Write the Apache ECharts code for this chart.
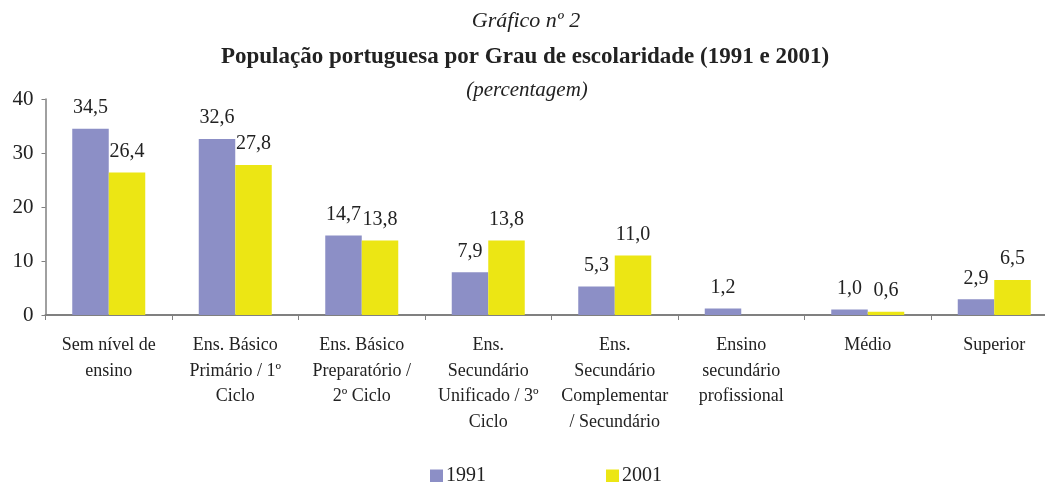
<!DOCTYPE html>
<html>
<head>
<meta charset="utf-8">
<script src="https://cdn.jsdelivr.net/npm/echarts@6/dist/echarts.min.js"></script>
<style>
  html, body { margin: 0; padding: 0; background: #fff; }
  #chart { width: 1045px; height: 482px; }
</style>
</head>
<body>
<div id="chart"></div>
<script>
const categories = [
  'Sem nível de\nensino',
  'Ens. Básico\nPrimário / 1º\nCiclo',
  'Ens. Básico\nPreparatório /\n2º Ciclo',
  'Ens.\nSecundário\nUnificado / 3º\nCiclo',
  'Ens.\nSecundário\nComplementar\n/ Secundário',
  'Ensino\nsecundário\nprofissional',
  'Médio',
  'Superior'
];
const values1991 = [34.5, 32.6, 14.7, 7.9, 5.3, 1.2, 1.0, 2.9];
const values2001 = [26.4, 27.8, 13.8, 13.8, 11.0, null, 0.6, 6.5];
const yTicks = [0, 10, 20, 30, 40];

const font = '"Liberation Serif", "DejaVu Serif", serif';
const textColor = '#222';
const axisColor = '#808080';

const chart = echarts.init(document.getElementById('chart'));

const fmt = p => (p.value == null ? '' : p.value.toFixed(1).replace('.', ','));

const labelStyle = {
  show: true,
  position: 'top',
  distance: 11,
  color: textColor,
  fontFamily: font,
  fontSize: 20,
  formatter: fmt
};

chart.setOption({
  animation: false,
  textStyle: { fontFamily: font, color: textColor },
  title: [
    {
      text: 'Gráfico nº 2',
      left: 521, textAlign: 'center', top: 5,
      textStyle: { fontFamily: font, fontStyle: 'italic', fontWeight: 'normal', fontSize: 22, color: textColor }
    },
    {
      text: 'População portuguesa por Grau de escolaridade (1991 e 2001)',
      left: 520, textAlign: 'center', top: 41,
      textStyle: { fontFamily: font, fontWeight: 'bold', fontSize: 23, color: textColor }
    },
    {
      text: '(percentagem)',
      left: 522, textAlign: 'center', top: 75,
      textStyle: { fontFamily: font, fontStyle: 'italic', fontWeight: 'normal', fontSize: 21, color: textColor }
    }
  ],
  legend: {
    top: 466,
    left: 430,
    padding: 0,
    itemWidth: 13,
    itemHeight: 13,
    itemGap: 120,
    icon: 'rect',
    textStyle: { fontFamily: font, fontSize: 20, color: textColor, padding: [0, 0, 0, -2] },
    data: ['1991', '2001']
  },
  grid: {
    left: 45.5,
    width: 1012,
    top: 99,
    bottom: 167,
    containLabel: false,
    outerBoundsMode: 'none'
  },
  xAxis: {
    type: 'category',
    data: categories,
    axisLine: { lineStyle: { color: axisColor, width: 2 } },
    axisTick: { show: true, alignWithLabel: false, length: 5, lineStyle: { color: axisColor } },
    axisLabel: {
      color: textColor,
      fontFamily: font,
      fontSize: 18,
      lineHeight: 25.5,
      margin: 18,
      interval: 0
    }
  },
  yAxis: {
    type: 'value',
    min: yTicks[0],
    max: yTicks[yTicks.length - 1],
    interval: 10,
    splitLine: { show: false },
    axisLine: { show: true, lineStyle: { color: axisColor, width: 1.5 } },
    axisTick: { show: true, length: 4, lineStyle: { color: axisColor } },
    axisLabel: { color: textColor, fontFamily: font, fontSize: 21, margin: 12 }
  },
  series: [
    {
      name: '1991',
      type: 'bar',
      data: values1991,
      barWidth: 36.5,
      barGap: '0%',
      itemStyle: { color: '#8c8fc6' },
      label: labelStyle
    },
    {
      name: '2001',
      type: 'bar',
      data: values2001,
      barWidth: 36.5,
      barGap: '0%',
      itemStyle: { color: '#ece614' },
      label: labelStyle
    }
  ]
});
</script>
</body>
</html>
